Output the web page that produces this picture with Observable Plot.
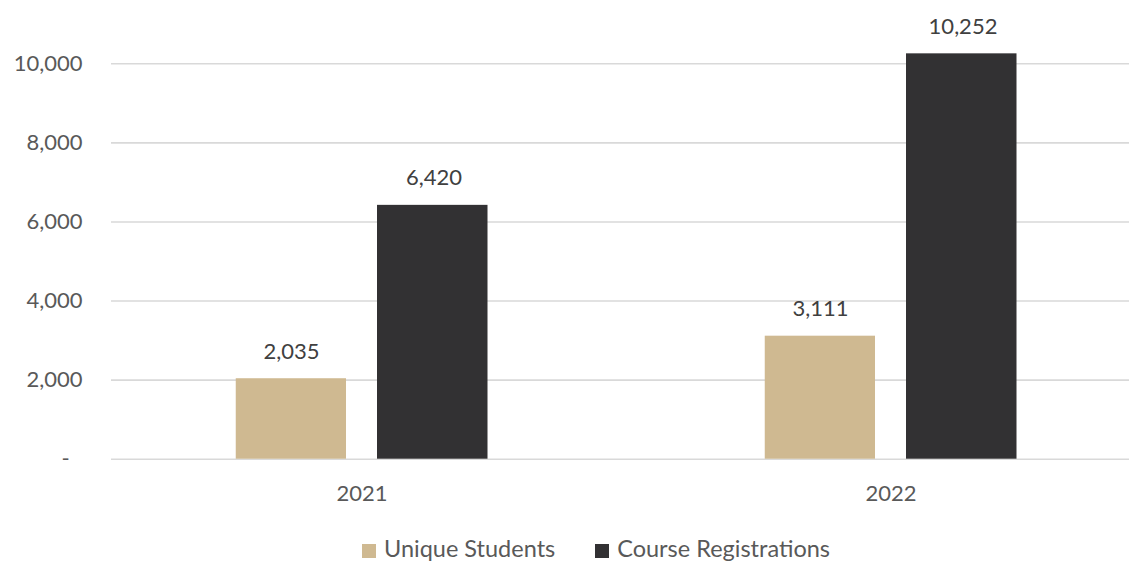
<!DOCTYPE html>
<html>
<head>
<meta charset="utf-8">
<script src="https://cdn.jsdelivr.net/npm/d3@7"></script>
<script src="https://cdn.jsdelivr.net/npm/@observablehq/plot@0.6"></script>
<style>
  html, body { margin: 0; padding: 0; background: #fff; }
  #wrap { position: relative; width: 1129px; height: 564px; overflow: hidden; }
  #legend { position: absolute; left: 362px; top: 536px; }
  #legend, #legend * { font-family: Lato, "Open Sans", sans-serif !important; font-size: 23.5px !important; color: #595959 !important; line-height: 24px !important; }
  #legend > div { margin: 0 !important; min-height: 0 !important; }
  #legend span { margin-right: 40px !important; }
  #legend span > svg { margin-right: 8px !important; transform: translateY(3px); }
</style>
</head>
<body>
<div id="wrap"><div id="chart"></div><div id="legend"></div></div>
<script>
const years = ["2021", "2022"];
const series = ["Unique Students", "Course Registrations"];
const uniqueStudents = [2035, 3111];
const courseRegistrations = [6420, 10252];
const yTicks = [0, 2000, 4000, 6000, 8000, 10000];
const colors = ["#CFB991", "#323133"];

const data = years.flatMap((yr, i) => [
  {year: yr, series: series[0], value: uniqueStudents[i]},
  {year: yr, series: series[1], value: courseRegistrations[i]}
]);
const d0 = data.filter(d => d.series === series[0]);
const d1 = data.filter(d => d.series === series[1]);
const fmt = d3.format(",");

const chart = Plot.plot({
  width: 1129,
  height: 564,
  marginLeft: 111,
  marginRight: 0,
  marginTop: 63.3,
  marginBottom: 105.3,
  style: {fontFamily: "Lato, 'Open Sans', sans-serif", fontSize: "22px", color: "#595959", background: "#fff"},
  x: {domain: years, range: [96.25, 1155.25], padding: 0, label: null, tickSize: 0, tickPadding: 26},
  y: {domain: [0, 10000], ticks: yTicks, tickSize: 0, tickPadding: 29, label: null,
      tickFormat: d => d === 0 ? "-\u2007" : fmt(d)},
  color: {domain: series, range: colors},
  marks: [
    Plot.ruleY(yTicks, {stroke: "#d9d9d9", strokeWidth: 1.6}),
    Plot.barY(d0, {x: "year", y: "value", fill: "series", insetLeft: 138.75, insetRight: 280}),
    Plot.barY(d1, {x: "year", y: "value", fill: "series", insetLeft: 280, insetRight: 138.5}),
    Plot.text(d0, {x: "year", y: "value", text: d => fmt(d.value), dx: -70.6, dy: -27, fill: "#404040", fontSize: 22}),
    Plot.text(d1, {x: "year", y: "value", text: d => fmt(d.value), dx: 72, dy: -27, fill: "#404040", fontSize: 22})
  ]
});
document.getElementById("chart").appendChild(chart);

const legend = Plot.legend({color: {domain: series, range: colors}, legend: "swatches", swatchSize: 14});
document.getElementById("legend").appendChild(legend);
</script>
</body>
</html>
